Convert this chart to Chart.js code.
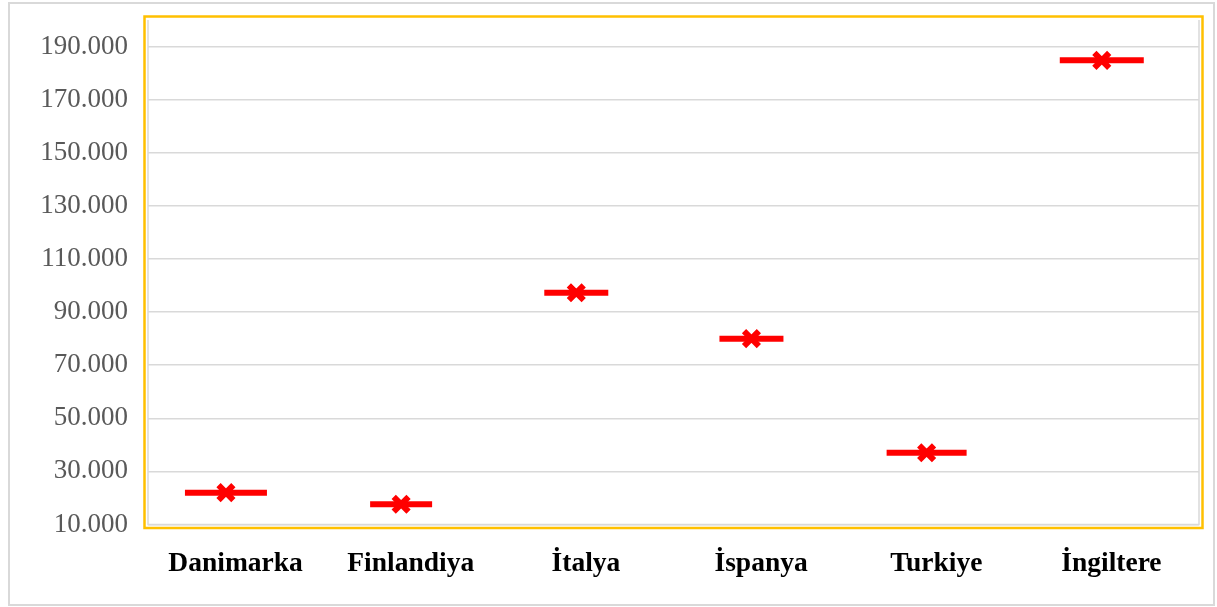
<!DOCTYPE html>
<html lang="tr">
<head>
<meta charset="utf-8">
<title>Ülkelere göre değerler</title>
<script src="https://cdn.jsdelivr.net/npm/chart.js@4.4.1/dist/chart.umd.min.js"></script>
<style>
  html, body { margin: 0; padding: 0; background: #ffffff; }
  #wrap { position: relative; width: 1217px; height: 607px; }
</style>
</head>
<body>
<div id="wrap"><canvas id="chart"></canvas></div>
<script>
// Countries along the horizontal axis
const categories = ['Danimarka', 'Finlandiya', 'İtalya', 'İspanya', 'Turkiye', 'İngiltere'];
// One value per country
const values = [22000, 17600, 97300, 80000, 37000, 184800];
// Value axis ticks
const tickValues = [10000, 30000, 50000, 70000, 90000, 110000, 130000, 150000, 170000, 190000];
const axisMin = 10000;
const axisMax = 200000;

// Styling: half length of each horizontal dash, in pixels
const dashHalfWidths = [41, 31, 32, 32, 40, 42];
// Marks sit slightly left of each category centre
const markShift = -0.055;

const serif = "'Liberation Serif', 'Times New Roman', 'DejaVu Serif', serif";

const points = values.map((v, i) => ({ x: i + markShift, y: v }));

const fmt = v => v.toLocaleString('de-DE');

// Drop the extra room Chart.js reserves for edge labels
const noEdgePadding = axis => {
  axis.paddingLeft = 0;
  axis.paddingRight = 0;
  axis.paddingTop = 0;
  axis.paddingBottom = 0;
};

// Outer panel border, yellow plot frame and light inner frame
const framePlugin = {
  id: 'frames',
  beforeDraw(chart) {
    const { ctx, chartArea: a } = chart;
    ctx.save();
    ctx.strokeStyle = '#d9d9d9';
    ctx.lineWidth = 2;
    ctx.strokeRect(9, 3, 1205, 602);

    ctx.strokeStyle = '#ffc000';
    ctx.lineWidth = 2.5;
    ctx.strokeRect(a.left - 3.5, a.top - 3.5, a.right - a.left + 7, a.bottom - a.top + 7);

    ctx.strokeStyle = '#d9d9d9';
    ctx.lineWidth = 1.5;
    ctx.beginPath();
    ctx.moveTo(a.left, a.top);
    ctx.lineTo(a.left, a.bottom);
    ctx.lineTo(a.right, a.bottom);
    ctx.lineTo(a.right, a.top);
    ctx.stroke();
    ctx.restore();
  }
};

new Chart(document.getElementById('chart'), {
  type: 'scatter',
  data: {
    datasets: [
      {
        label: 'dash',
        data: points,
        pointStyle: 'line',
        pointRadius: dashHalfWidths,
        pointHoverRadius: dashHalfWidths,
        borderColor: '#ff0000',
        backgroundColor: '#ff0000',
        pointBorderWidth: 6,
        order: 2
      },
      {
        label: 'mark',
        data: points,
        pointStyle: 'crossRot',
        pointRadius: 10.5,
        pointHoverRadius: 10.5,
        borderColor: '#ff0000',
        backgroundColor: '#ff0000',
        pointBorderWidth: 6,
        order: 1
      }
    ]
  },
  options: {
    responsive: true,
    maintainAspectRatio: false,
    animation: false,
    events: [],
    layout: { autoPadding: false, padding: { left: 0, top: 20, right: 18, bottom: 0 } },
    plugins: {
      legend: { display: false },
      tooltip: { enabled: false }
    },
    scales: {
      x: {
        type: 'linear',
        min: -0.5,
        max: categories.length - 0.5,
        afterBuildTicks: axis => { axis.ticks = categories.map((c, i) => ({ value: i })); },
        afterFit: axis => { axis.height = 82.5; noEdgePadding(axis); },
        grid: { display: false, drawTicks: false },
        border: { display: false },
        ticks: {
          autoSkip: false,
          maxRotation: 0,
          padding: 23,
          color: '#000000',
          font: { family: serif, size: 27.5, weight: 'bold' },
          callback: v => categories[v]
        }
      },
      y: {
        type: 'linear',
        min: axisMin,
        max: axisMax,
        afterBuildTicks: axis => { axis.ticks = tickValues.map(v => ({ value: v })); },
        afterFit: axis => { axis.width = 148; noEdgePadding(axis); },
        grid: { color: '#d9d9d9', lineWidth: 1.5, drawTicks: false },
        border: { display: false },
        ticks: {
          padding: 20,
          color: '#595959',
          font: { family: serif, size: 27 },
          callback: v => fmt(v)
        }
      }
    }
  },
  plugins: [framePlugin]
});
</script>
</body>
</html>
